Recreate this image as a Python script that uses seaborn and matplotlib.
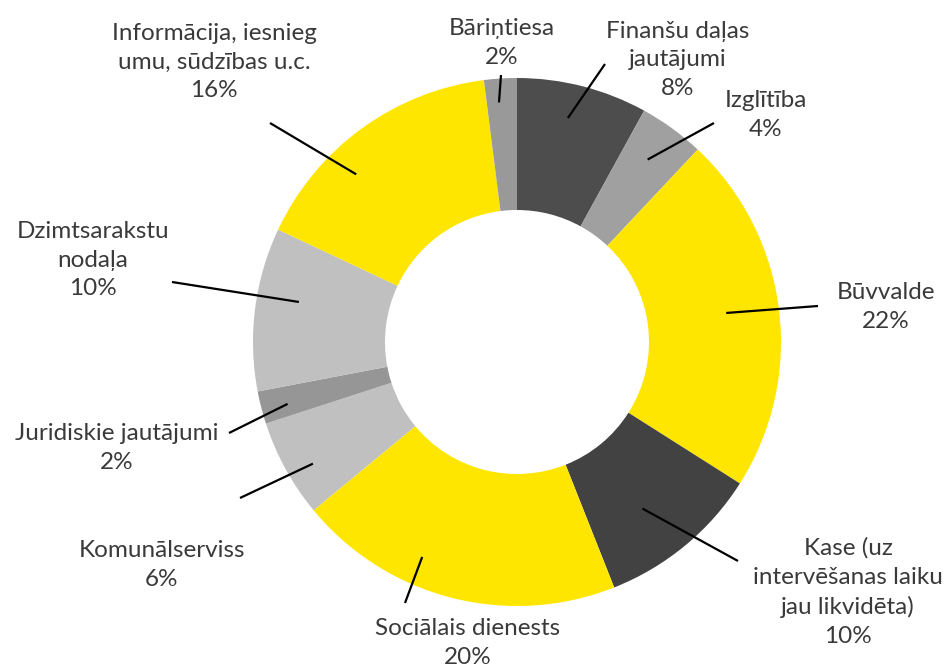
import numpy as np
import matplotlib
matplotlib.use("Agg")
import matplotlib.pyplot as plt
import seaborn as sns

sns.set_theme(style="white")
plt.rcParams['font.family'] = ['Lato', 'DejaVu Sans']

categories = [
    "Finanšu daļas\njautājumi",
    "Izglītība",
    "Būvvalde",
    "Kase (uz\nintervēšanas laiku\njau likvidēta)",
    "Sociālais dienests",
    "Komunālserviss",
    "Juridiskie jautājumi",
    "Dzimtsarakstu\nnodaļa",
    "Informācija, iesnieg\numu, sūdzības u.c.",
    "Bāriņtiesa",
]
values = [8, 4, 22, 10, 20, 6, 2, 10, 16, 2]
colors = ["#4d4d4d", "#a0a0a0", "#ffe600", "#424242", "#ffe600",
          "#c0c0c0", "#969696", "#c0c0c0", "#ffe600", "#999999"]

# layout (reference pixel positions): label centres, leader-line outer ends,
# leader anchor radius and angle tweak relative to wedge middle
label_px = [(678, 60), (766, 115), (886, 307), (848, 592), (468, 643),
            (162, 565), (117, 448), (93, 260), (214, 62), (502, 43)]
line_px = [(605, 64), (714, 123), (818, 306), (738, 561), (405, 603),
           (240, 498), (229, 433), (172, 282), (270, 123), (501, 75)]
anchor_r = [0.87, 0.85, 0.80, 0.79, 0.89, 0.90, 0.90, 0.84, 0.88, 0.91]
anchor_dang = [-1.6, -0.4, -0.7, 2.6, 9.4, -2.0, -0.7, 3.2, -7.8, -0.7]

W, H = 945, 669
cx, cy, R = 517, 342, 264


def to_data(p):
    return ((p[0] - cx) / R, (cy - p[1]) / R)


fig = plt.figure(figsize=(W / 100, H / 100), dpi=100)
ax = fig.add_axes([0, 0, 1, 1])
ax.pie(values, colors=colors, startangle=90, counterclock=False,
       radius=1.0, wedgeprops=dict(width=0.5, edgecolor="none"))
ax.set_xlim(-cx / R, (W - cx) / R)
ax.set_ylim(-(H - cy) / R, cy / R)
ax.set_aspect("equal")
ax.axis("off")

total = sum(values)
cum = 0
for lab, v, lp, sp, ar, da in zip(categories, values, label_px, line_px,
                                  anchor_r, anchor_dang):
    mid = np.deg2rad((cum + v / 2) / total * 360 + da)
    cum += v
    anchor = (ar * np.sin(mid), ar * np.cos(mid))
    start = to_data(sp)
    ax.plot([start[0], anchor[0]], [start[1], anchor[1]], color="black",
            lw=1.6, solid_capstyle="butt")
    tx, ty = to_data(lp)
    ax.text(tx, ty, f"{lab}\n{round(v)}%", ha="center", va="center",
            fontsize=17.5, color="#3a3a3a", linespacing=1.45)

fig.savefig("out.png", dpi=100, facecolor="white")
